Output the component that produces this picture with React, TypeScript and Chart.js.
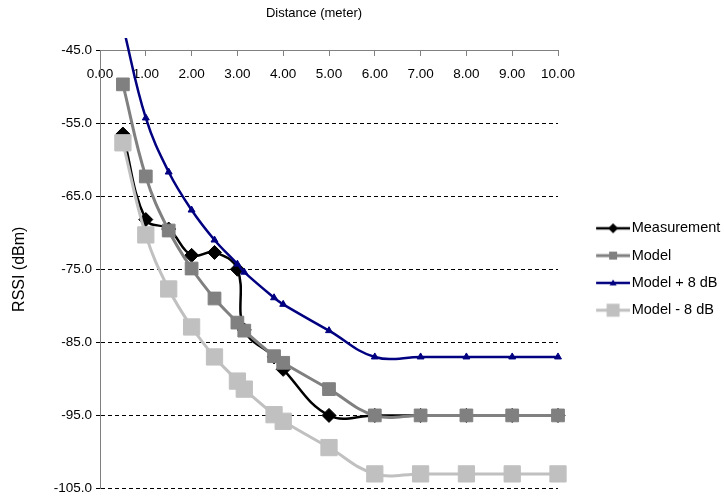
import React, { useEffect, useRef } from 'react';
import { Chart, registerables } from 'chart.js';

Chart.register(...registerables);

// ---- data ----
const distances = [0.5, 1, 1.5, 2, 2.5, 3, 3.15, 3.8, 4, 5, 6, 7, 8, 9, 10];
const measurement = [-56.5, -68.2, -69.5, -73.1, -72.7, -75.0, -83.3, -87.0, -88.7, -95.0, -95, -95, -95, -95, -95];
const model = [-49.7, -62.3, -69.7, -74.9, -79.0, -82.3, -83.4, -86.9, -87.8, -91.4, -95, -95, -95, -95, -95];
const modelPlus8 = [-41.7, -54.3, -61.7, -66.9, -71.0, -74.3, -75.4, -78.9, -79.8, -83.4, -87, -87, -87, -87, -87];
const modelMinus8 = [-57.7, -70.3, -77.7, -82.9, -87.0, -90.3, -91.4, -94.9, -95.8, -99.4, -103, -103, -103, -103, -103];
const seriesLabels = ['Measurement', 'Model', 'Model + 8 dB', 'Model - 8 dB'];
const xTitle = 'Distance (meter)';
const yTitle = 'RSSI (dBm)';
const xMin = 0;
const xMax = 10;
const xStep = 1;
const yMin = -105;
const yMax = -45;
const yStep = 10;

const FONT = "'Liberation Sans', Arial, sans-serif";

function legendImage(color: string, lineWidth: number, marker: string, size: number) {
  const c = document.createElement('canvas');
  c.width = 65;
  c.height = 18;
  const g = c.getContext('2d')!;
  g.strokeStyle = color;
  g.lineWidth = lineWidth;
  g.beginPath();
  g.moveTo(31, 9);
  g.lineTo(65, 9);
  g.stroke();
  g.fillStyle = color;
  const cx = 48;
  const cy = 9;
  g.beginPath();
  if (marker === 'rect') {
    g.rect(cx - size / 2, cy - size / 2, size, size);
  } else if (marker === 'rectRot') {
    g.moveTo(cx - size / 2, cy);
    g.lineTo(cx, cy - size / 2);
    g.lineTo(cx + size / 2, cy);
    g.lineTo(cx, cy + size / 2);
    g.closePath();
  } else {
    g.moveTo(cx, cy - size / 2);
    g.lineTo(cx + size / 2, cy + size / 2 - 1);
    g.lineTo(cx - size / 2, cy + size / 2 - 1);
    g.closePath();
  }
  g.fill();
  return c;
}

const xTitlePlugin = {
  id: 'xTitleTop',
  afterDraw(chart: any) {
    const { ctx, chartArea } = chart;
    ctx.save();
    ctx.font = `13px ${FONT}`;
    ctx.fillStyle = '#000000';
    ctx.textAlign = 'center';
    ctx.textBaseline = 'middle';
    ctx.fillText(xTitle, (chartArea.left + chartArea.right) / 2 - 15, 13);
    ctx.restore();
  },
};

export default function App() {
  const ref = useRef<HTMLCanvasElement | null>(null);

  useEffect(() => {
    if (!ref.current) return;
    const pts = (vals: number[]) => distances.map((d, i) => ({ x: d, y: vals[i] }));
    const clip = { left: 12, right: 12, top: 12, bottom: 12 };
    const images = [
      legendImage('#000000', 2.5, 'rectRot', 10),
      legendImage('#808080', 3, 'rect', 8),
      legendImage('#000080', 2.5, 'triangle', 7),
      legendImage('#C0C0C0', 3, 'rect', 13),
    ];
    const chart = new Chart(ref.current, {
      type: 'line',
      data: {
        datasets: [
          {
            label: seriesLabels[0],
            data: pts(measurement),
            borderColor: '#000000',
            backgroundColor: '#000000',
            borderWidth: 2.5,
            pointStyle: 'rectRot',
            pointRadius: 7,
            pointBorderWidth: 1,
            pointBorderColor: '#000000',
            pointBackgroundColor: '#000000',
            order: 4,
            clip,
          },
          {
            label: seriesLabels[1],
            data: pts(model),
            borderColor: '#808080',
            backgroundColor: '#808080',
            borderWidth: 3,
            pointStyle: 'rect',
            pointRadius: 9,
            pointBorderWidth: 1,
            pointBorderColor: '#808080',
            pointBackgroundColor: '#808080',
            order: 2,
            clip,
          },
          {
            label: seriesLabels[2],
            data: pts(modelPlus8),
            borderColor: '#000080',
            backgroundColor: '#000080',
            borderWidth: 2.5,
            pointStyle: 'triangle',
            pointRadius: 4,
            pointBorderWidth: 1,
            pointBorderColor: '#000080',
            pointBackgroundColor: '#000080',
            order: 3,
            clip,
          },
          {
            label: seriesLabels[3],
            data: pts(modelMinus8),
            borderColor: '#C0C0C0',
            backgroundColor: '#C0C0C0',
            borderWidth: 3,
            pointStyle: 'rect',
            pointRadius: 11.5,
            pointBorderWidth: 1,
            pointBorderColor: '#C0C0C0',
            pointBackgroundColor: '#C0C0C0',
            order: 1,
            clip,
          },
        ],
      },
      options: {
        responsive: false,
        animation: false,
        events: [],
        layout: { padding: { top: 50, right: 0, bottom: 12, left: 0 } },
        elements: {
          line: { tension: 0.4, capBezierPoints: false, fill: false },
        },
        scales: {
          x: {
            type: 'linear',
            position: { y: yMax } as any,
            min: xMin,
            max: xMax,
            ticks: {
              stepSize: xStep,
              autoSkip: false,
              maxRotation: 0,
              padding: 11,
              color: '#000000',
              font: { family: FONT, size: 13.5 },
              callback: (v: any) => Number(v).toFixed(2),
            },
            grid: {
              display: true,
              drawOnChartArea: false,
              drawTicks: true,
              tickLength: 5,
              tickColor: '#808080',
            },
            border: { display: true, color: '#808080', width: 1 },
            afterFit: (s: any) => {
              s.height = 0;
            },
          },
          y: {
            type: 'linear',
            position: 'left',
            min: yMin,
            max: yMax,
            ticks: {
              stepSize: yStep,
              padding: 4,
              color: '#000000',
              font: { family: FONT, size: 13.5 },
              callback: (v: any) => Number(v).toFixed(1),
            },
            grid: {
              color: (ctx: any) => (ctx.tick && ctx.tick.value === yMax ? 'rgba(0,0,0,0)' : '#000000'),
              tickColor: '#000000',
              tickLength: 4,
              lineWidth: 1,
            },
            border: { display: true, color: '#808080', width: 1, dash: [4, 3] },
            title: {
              display: true,
              text: yTitle,
              color: '#000000',
              font: { family: FONT, size: 16 },
              padding: { top: 10.4, bottom: 0 },
            },
            afterFit: (s: any) => {
              s.width = 100;
            },
          },
        },
        plugins: {
          tooltip: { enabled: false },
          title: { display: false },
          legend: {
            display: true,
            position: 'right',
            align: 'center',
            fullSize: false,
            maxWidth: 166,
            labels: {
              usePointStyle: true,
              pointStyleWidth: 53.65,
              padding: 12.8,
              color: '#000000',
              font: { family: FONT, size: 14.5 },
              generateLabels: (c: any) =>
                c.data.datasets.map((ds: any, i: number) => ({
                  text: ds.label,
                  pointStyle: images[i],
                  fillStyle: 'rgba(0,0,0,0)',
                  strokeStyle: 'rgba(0,0,0,0)',
                  lineWidth: 0,
                  hidden: false,
                  datasetIndex: i,
                  fontColor: '#000000',
                })),
            },
          },
        },
      } as any,
      plugins: [xTitlePlugin],
    });
    return () => chart.destroy();
  }, []);

  return (
    <div style={{ position: 'absolute', left: 0, top: 0, width: 724, height: 501, background: '#ffffff' }}>
      <canvas ref={ref} width={724} height={501} style={{ display: 'block', width: 724, height: 501 }} />
    </div>
  );
}
